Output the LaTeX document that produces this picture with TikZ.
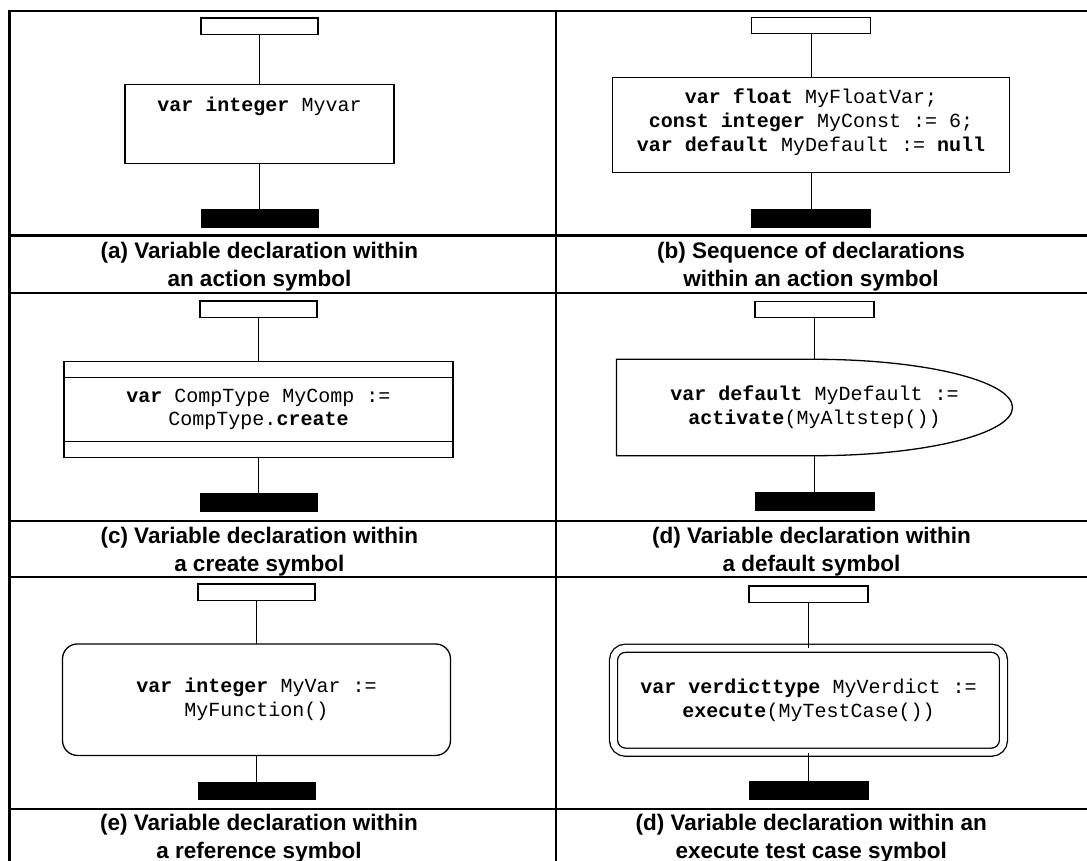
\documentclass[tikz,border=0pt]{standalone}
\usepackage{fontspec}
\setmainfont{Liberation Sans}
\newfontfamily\codefont{Liberation Mono}

\begin{document}
\begin{tikzpicture}[
    x=1pt, y=-1pt,
    frame/.style={line width=2.2pt},
    conn/.style={line width=1pt},
    symline/.style={line width=1.3pt},
    startbox/.style={rectangle, draw=black, line width=1.3pt, fill=white, minimum width=117pt, minimum height=16.5pt, inner sep=0pt},
    endbar/.style={rectangle, fill=black, minimum width=118pt, minimum height=18.5pt, inner sep=0pt},
    actbox/.style={rectangle, draw=black, symline, align=center, inner sep=0pt, outer sep=0pt, font=\codefont\fontsize{20}{23.8}\selectfont},
    code/.style={align=center, inner sep=0pt, outer sep=0pt, font=\codefont\fontsize{20}{23.8}\selectfont},
    caption/.style={align=center, inner sep=0pt, font=\bfseries\fontsize{22.5}{28}\selectfont}
  ]%
  \useasboundingbox (0,0) rectangle (1087,861);
  %
  % Table grid
  \foreach \yy in {11,235.6,293.3,520.7,576.7,808.7}
    \draw[frame] (8.4,\yy) -- (1092,\yy);
  \foreach \xx in {9.5,556}
    \draw[frame] (\xx,9.9) -- (\xx,866);
  %
  % (a) action symbol
  \node[startbox] (startA) at (259.5,26.3) {};
  \node[actbox, minimum width=269pt, minimum height=79pt] (actA) at (259.5,124) {};
  \node[code] (txtA) at (259.5,106) {\textbf{var integer} Myvar};
  \node[endbar] (endA) at (259.5,218.4) {};
  \draw[conn] (startA) -- (actA);
  \draw[conn] (actA) -- (endA);
  \node[caption] (capA) at (259.4,266.5) {(a) Variable declaration within\\an action symbol};
  %
  % (b) sequence of declarations
  \node[startbox, minimum width=119pt] (startB) at (811,25.5) {};
  \node[actbox, minimum width=397pt, minimum height=95pt] (actB) at (811,125) {};
  \node[code] (txtB) at (811,122) {\textbf{var float} MyFloatVar;\\\textbf{const integer} MyConst := 6;\\\textbf{var default} MyDefault := \textbf{null}};
  \node[endbar, minimum width=120pt] (endB) at (811,218.5) {};
  \draw[conn] (startB) -- (actB);
  \draw[conn] (actB) -- (endB);
  \node[caption] (capB) at (811,266.5) {(b) Sequence of declarations\\within an action symbol};
  %
  % (c) create symbol
  \node[startbox] (startC) at (258.5,309.2) {};
  \node[actbox, minimum width=389pt, minimum height=96pt] (crtC) at (258.5,409.3) {\textbf{var} CompType MyComp :=\\CompType.\textbf{create}};
  \draw[symline] ([yshift=-16.5pt]crtC.north west) -- ([yshift=-16.5pt]crtC.north east);
  \draw[symline] ([yshift=16pt]crtC.south west) -- ([yshift=16pt]crtC.south east);
  \node[endbar] (endC) at (258.5,502.7) {};
  \draw[conn] (startC) -- (crtC);
  \draw[conn] (crtC) -- (endC);
  \node[caption] (capC) at (259.3,551.5) {(c) Variable declaration within\\a create symbol};
  %
  % (d) default symbol
  \node[startbox, minimum width=119pt] (startD) at (814.5,309.5) {};
  \node[code, minimum width=396pt, minimum height=96.4pt] (dflt) at (814.5,407.5) {\textbf{var default} MyDefault :=\\\textbf{activate}(MyAltstep())};
  \draw[symline] (dflt.north west) -- (dflt.north) arc[start angle=90, end angle=-90, x radius=198pt, y radius=48.2pt] -- (dflt.south west) -- cycle;
  \node[endbar, minimum width=120pt] (endD) at (814.5,501.5) {};
  \draw[conn] (startD) -- (dflt);
  \draw[conn] (dflt) -- (endD);
  \node[caption] (capD) at (811.5,551.5) {(d) Variable declaration within\\a default symbol};
  %
  % (e) reference symbol
  \node[startbox] (startE) at (256.5,592.2) {};
  \node[actbox, rounded corners=15pt, minimum width=388pt, minimum height=111.5pt] (refE) at (256.5,699.7) {\textbf{var integer} MyVar :=\\MyFunction()};
  \node[endbar] (endE) at (256.5,791.2) {};
  \draw[conn] (startE) -- (refE);
  \draw[conn] (refE) -- (endE);
  \node[caption] (capE) at (259,838.5) {(e) Variable declaration within\\a reference symbol};
  %
  % (f) execute test case symbol
  \node[startbox, minimum width=119pt] (startF) at (808.5,594.2) {};
  \node[actbox, outer sep=auto, rounded corners=12pt, double, double distance=6.7pt, minimum width=390pt, minimum height=104pt] (exeF) at (808.5,700.2) {\textbf{var verdicttype} MyVerdict :=\\\textbf{execute}(MyTestCase())};
  \node[endbar, minimum width=120pt] (endF) at (808.5,790.5) {};
  \draw[conn] (startF) -- (exeF);
  \draw[conn] (exeF) -- (endF);
  \node[caption] (capF) at (811.2,838.5) {(d) Variable declaration within an\\execute test case symbol};
\end{tikzpicture}
\end{document}
